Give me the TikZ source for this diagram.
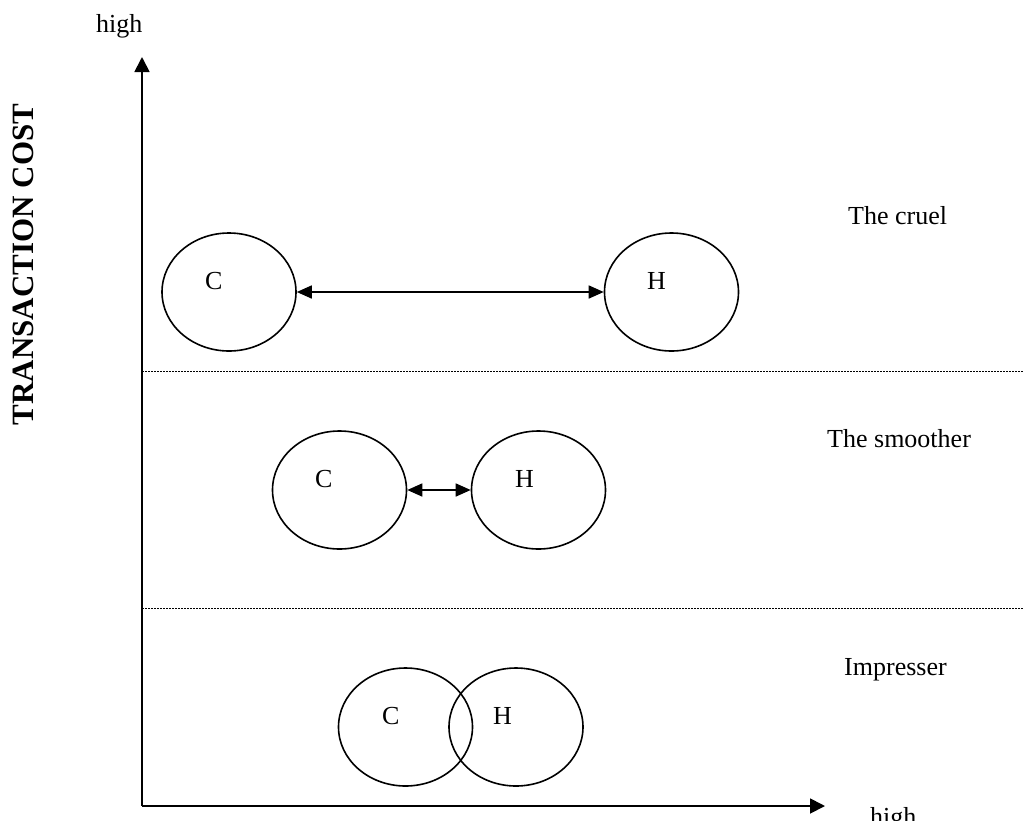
\documentclass[tikz,border=0pt]{standalone}
\usepackage{fontspec}
\setmainfont{Liberation Serif}
\usetikzlibrary{arrows.meta,shapes.geometric}
\tikzset{
  txt/.style={inner sep=0pt, anchor=base west, font=\fontsize{26}{30}\selectfont},
  ell/.style={draw, line width=1.6pt, ellipse, minimum width=134pt, minimum height=118pt, inner sep=0pt},
  axis/.style={line width=1.8pt, -{Triangle[length=15pt,width=15pt]}},
  link/.style={line width=1.6pt, {Triangle[length=15pt,width=13pt]}-{Triangle[length=15pt,width=13pt]}},
  sep/.style={line width=1pt, dash pattern=on 1.5pt off 1.5pt}
}
\begin{document}
\begin{tikzpicture}[x=1pt,y=-1pt]
\useasboundingbox (0,0) rectangle (1023,820);
% axes
\coordinate (o) at (142,806);
\coordinate (ytip) at (142,57);
\coordinate (xtip) at (825,806);
\draw[axis] (o) -- (ytip);
\draw[axis] (o) -- (xtip);
\node[txt] (hy) at (96,32) {high};
\node[txt] (hx) at (870,825) {high};
\node[inner sep=0pt, anchor=base, rotate=90, font=\fontsize{31}{34}\selectfont\bfseries] (yl) at (33,264.5) {TRANSACTION COST};
% separators
\coordinate (s1a) at (142,371); \coordinate (s1b) at (1023,371);
\coordinate (s2a) at (142,608); \coordinate (s2b) at (1023,608);
\draw[sep] (s1a) -- (s1b);
\draw[sep] (s2a) -- (s2b);
% row labels
\node[txt] (l1) at (848,224) {The cruel};
\node[txt] (l2) at (827,447) {The smoother};
\node[txt] (l3) at (844,675) {Impresser};
% top row
\node[ell] (c1) at (229,292) {};
\node[ell] (h1) at (671.5,292) {};
\node[txt] (c1t) at (205,289) {C};
\node[txt] (h1t) at (647,289) {H};
\draw[link] (c1.east) -- (h1.west);
% middle row
\node[ell] (c2) at (339.5,490) {};
\node[ell] (h2) at (538.5,490) {};
\node[txt] (c2t) at (315,487) {C};
\node[txt] (h2t) at (515,487) {H};
\draw[link] (c2.east) -- (h2.west);
% bottom row
\node[ell] (c3) at (405.5,727) {};
\node[ell] (h3) at (516,727) {};
\node[txt] (c3t) at (382,724) {C};
\node[txt] (h3t) at (493,724) {H};
\end{tikzpicture}
\end{document}
